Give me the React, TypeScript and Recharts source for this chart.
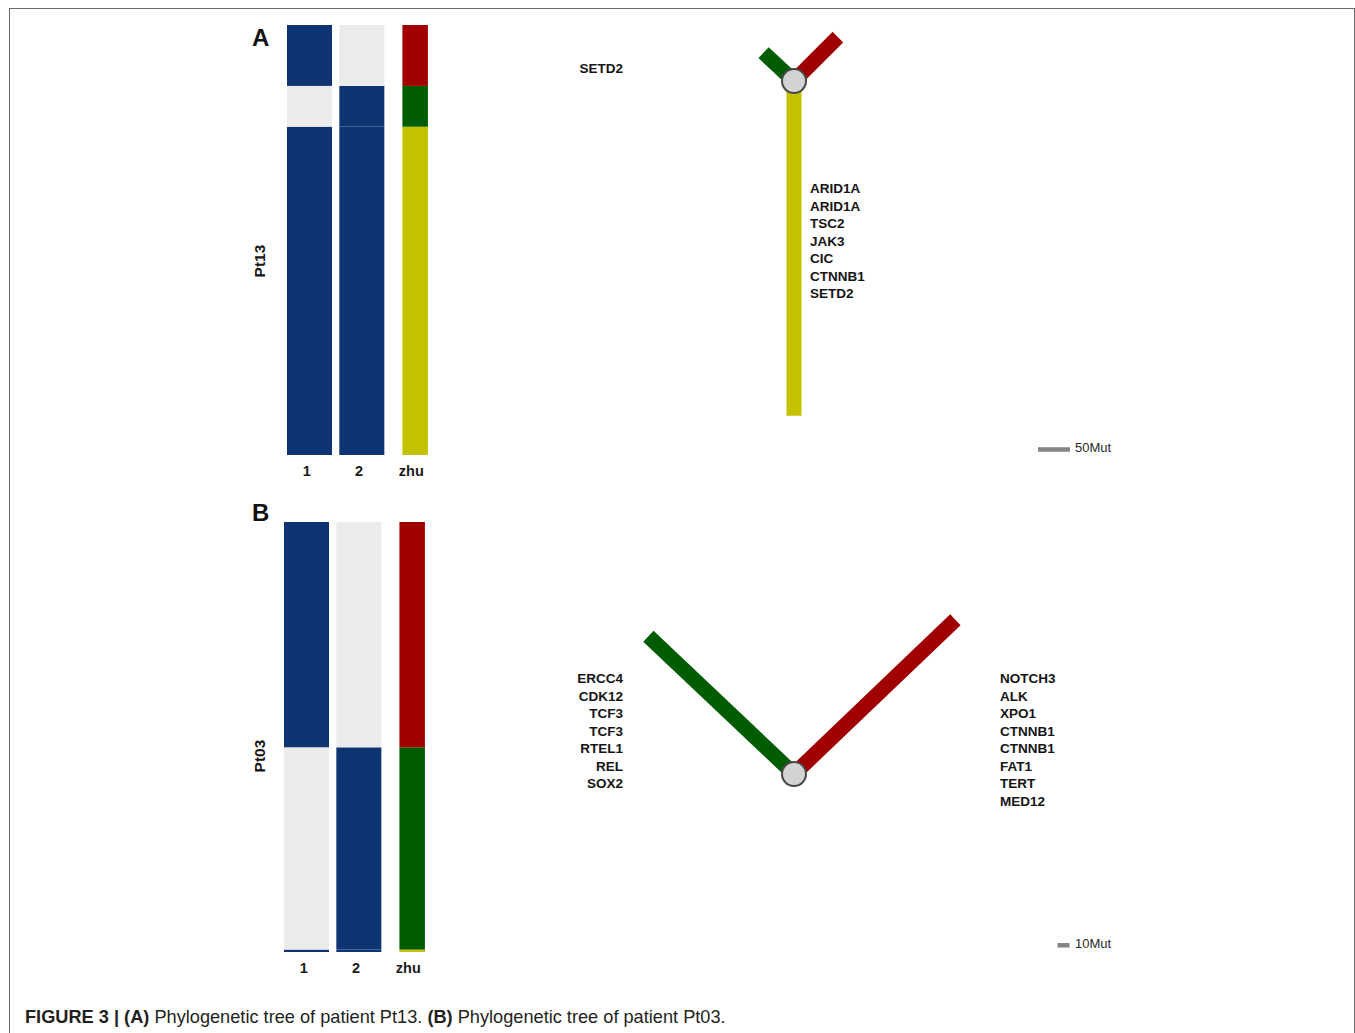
import React from 'react';
import { BarChart, Bar, XAxis, YAxis, ScatterChart, Scatter } from 'recharts';

// heatmap columns
const samples = ['1', '2', 'zhu'];
// clone order, bottom of the heatmap first: trunk, branch private to sample 2, branch private to sample 1
const cloneKeys = ['trunk', 'green', 'red'];
const cloneColors = ['#C4C200', '#005C00', '#A00000'];
const presentColor = '#0E3471';
const absentColor = '#EBEBEB';

// presence of each clone (trunk, green, red) in samples 1 and 2
const sample1Presence = [1, 0, 1];
const sample2Presence = [1, 1, 0];

// Pt13: mutations per clone and branch angles (degrees, 90 = straight up)
const pt13Muts = [523, 65, 97];
const pt13Angles = [-90, 137, 45];
const pt13TrunkGenes = ['ARID1A', 'ARID1A', 'TSC2', 'JAK3', 'CIC', 'CTNNB1', 'SETD2'];
const pt13GreenGenes = ['SETD2'];

// Pt03
const pt03Muts = [2, 167, 186];
const pt03Angles = [-90, 136.6, 43.7];
const pt03GreenGenes = ['ERCC4', 'CDK12', 'TCF3', 'TCF3', 'RTEL1', 'REL', 'SOX2'];
const pt03RedGenes = ['NOTCH3', 'ALK', 'XPO1', 'CTNNB1', 'CTNNB1', 'FAT1', 'TERT', 'MED12'];

const FONT = "'Liberation Sans', Arial, Helvetica, sans-serif";

const buildHeatRows = (muts: number[]) =>
  samples.map((s) => ({ col: s, trunk: muts[0], green: muts[1], red: muts[2] }));

const segmentFill = (sample: string, k: number) => {
  if (sample === 'zhu') return cloneColors[k];
  const pres = sample === '1' ? sample1Presence : sample2Presence;
  return pres[k] ? presentColor : absentColor;
};

const Heatmap = ({ muts, left, top }: { muts: number[]; left: number; top: number }) => {
  const data = buildHeatRows(muts);
  const total = muts.reduce((a, b) => a + b, 0);
  return (
    <div style={{ position: 'absolute', left, top }}>
      <BarChart width={157} height={460} data={data} margin={{ top: 0, right: 0, bottom: 0, left: 0 }} barCategoryGap={0}>
        <XAxis
          dataKey="col"
          height={30}
          axisLine={false}
          tickLine={false}
          tickMargin={5}
          interval={0}
          tick={{ fontSize: 14.5, fontWeight: 700, fill: '#1a1a1a', fontFamily: FONT, dx: -2.5 }}
        />
        <YAxis hide type="number" domain={[0, total]} allowDataOverflow />
        {cloneKeys.map((key, k) => (
          <Bar
            key={key}
            dataKey={key}
            stackId="h"
            barSize={45}
            isAnimationActive={false}
            shape={(p: any) => {
              const sample = p.payload?.col ?? samples[p.index];
              const fill = segmentFill(sample, k);
              let x = p.x;
              let w = p.width;
              if (sample === 'zhu') {
                w = 25.5;
                x = p.x + (p.width - w) / 2 + 1;
              }
              return <rect x={x} y={p.y} width={w} height={Math.max(p.height, 0)} fill={fill} />;
            }}
          />
        ))}
      </BarChart>
    </div>
  );
};

type TreeProps = {
  muts: number[];
  angles: number[];
  scale: number; // px per mutation
  node: { x: number; y: number }; // pixel position of the split node
  box: { left: number; top: number; w: number; h: number };
  barMuts: number;
  barEnd: { x: number; y: number }; // pixel position of the scale bar end
};

const Tree = ({ muts, angles, scale, node, box, barMuts, barEnd }: TreeProps) => {
  const xDomain = [(box.left - node.x) / scale, (box.left + box.w - node.x) / scale];
  const yDomain = [(node.y - (box.top + box.h)) / scale, (node.y - box.top) / scale];
  const seg = (k: number) => {
    const a = (angles[k] * Math.PI) / 180;
    return [
      { x: 0, y: 0 },
      { x: muts[k] * Math.cos(a), y: muts[k] * Math.sin(a) },
    ];
  };
  const bx = (barEnd.x - node.x) / scale;
  const by = (node.y - barEnd.y) / scale;
  const scaleBar = [
    { x: bx - barMuts, y: by },
    { x: bx, y: by },
  ];
  const empty = () => <g />;
  return (
    <div style={{ position: 'absolute', left: box.left, top: box.top }}>
      <ScatterChart width={box.w} height={box.h} margin={{ top: 0, right: 0, bottom: 0, left: 0 }}>
        <XAxis type="number" dataKey="x" hide domain={xDomain} allowDataOverflow />
        <YAxis type="number" dataKey="y" hide domain={yDomain} allowDataOverflow />
        {[0, 1, 2].map((k) => (
          <Scatter
            key={k}
            data={seg(k)}
            line={{ stroke: cloneColors[k], strokeWidth: 15 }}
            stroke={cloneColors[k]}
            shape={empty}
            isAnimationActive={false}
          />
        ))}
        <Scatter data={scaleBar} line={{ stroke: '#858585', strokeWidth: 4.5 }} stroke="#858585" shape={empty} isAnimationActive={false} />
        <Scatter
          data={[{ x: 0, y: 0 }]}
          isAnimationActive={false}
          shape={(p: any) => <circle cx={p.cx} cy={p.cy} r={12} fill="#D3D3D3" stroke="#474747" strokeWidth={2} />}
        />
      </ScatterChart>
    </div>
  );
};

const GeneList = ({ genes, left, top, align }: { genes: string[]; left: number; top: number; align: 'left' | 'right' }) => (
  <div
    style={{
      position: 'absolute',
      left: align === 'left' ? left : undefined,
      right: align === 'right' ? 1355 - left : undefined,
      top,
      textAlign: align,
      fontSize: 13.5,
      fontWeight: 700,
      lineHeight: '17.5px',
      color: '#151515',
    }}
  >
    {genes.map((g, i) => (
      <div key={i}>{g}</div>
    ))}
  </div>
);

const SideLabel = ({ text, cx, cy }: { text: string; cx: number; cy: number }) => (
  <div
    style={{
      position: 'absolute',
      left: cx - 40,
      top: cy - 10,
      width: 80,
      height: 20,
      lineHeight: '20px',
      textAlign: 'center',
      fontSize: 15.5,
      fontWeight: 700,
      color: '#151515',
      transform: 'rotate(-90deg)',
    }}
  >
    {text}
  </div>
);

const PanelLetter = ({ text, top }: { text: string; top: number }) => (
  <div style={{ position: 'absolute', left: 252, top, fontSize: 24, fontWeight: 700, lineHeight: '28px', color: '#111' }}>
    {text}
  </div>
);

const ScaleText = ({ text, top }: { text: string; top: number }) => (
  <div style={{ position: 'absolute', left: 1075, top, fontSize: 13, lineHeight: '16px', color: '#2a2a2a' }}>{text}</div>
);

export default function App() {
  return (
    <div
      style={{
        position: 'fixed',
        left: 0,
        top: 0,
        width: 1355,
        height: 1033,
        overflow: 'hidden',
        background: '#fff',
        fontFamily: FONT,
      }}
    >
      <div
        style={{
          position: 'absolute',
          left: 9,
          top: 8,
          width: 1346,
          height: 1100,
          border: '1.5px solid #6a6a6a',
          boxSizing: 'border-box',
        }}
      />

      {/* Panel A */}
      <PanelLetter text="A" top={24} />
      <SideLabel text="Pt13" cx={260} cy={261} />
      <Heatmap muts={pt13Muts} left={283} top={25} />
      <Tree
        muts={pt13Muts}
        angles={pt13Angles}
        scale={0.64}
        node={{ x: 794, y: 81 }}
        box={{ left: 540, top: 15, w: 560, h: 460 }}
        barMuts={50}
        barEnd={{ x: 1070, y: 449.5 }}
      />
      <GeneList genes={pt13GreenGenes} left={623} top={60} align="right" />
      <GeneList genes={pt13TrunkGenes} left={810} top={180} align="left" />
      <ScaleText text="50Mut" top={440} />

      {/* Panel B */}
      <PanelLetter text="B" top={499} />
      <SideLabel text="Pt03" cx={260} cy={756} />
      <Heatmap muts={pt03Muts} left={280} top={522} />
      <Tree
        muts={pt03Muts}
        angles={pt03Angles}
        scale={1.2}
        node={{ x: 794, y: 774 }}
        box={{ left: 540, top: 500, w: 560, h: 470 }}
        barMuts={10}
        barEnd={{ x: 1069.5, y: 945.3 }}
      />
      <GeneList genes={pt03GreenGenes} left={623} top={670} align="right" />
      <GeneList genes={pt03RedGenes} left={1000} top={670} align="left" />
      <ScaleText text="10Mut" top={936} />

      <div style={{ position: 'absolute', left: 25, top: 1006, fontSize: 18.2, lineHeight: '22px', color: '#231F20', whiteSpace: 'nowrap' }}>
        <b>FIGURE 3 | (A)</b> Phylogenetic tree of patient Pt13. <b>(B)</b> Phylogenetic tree of patient Pt03.
      </div>
    </div>
  );
}
